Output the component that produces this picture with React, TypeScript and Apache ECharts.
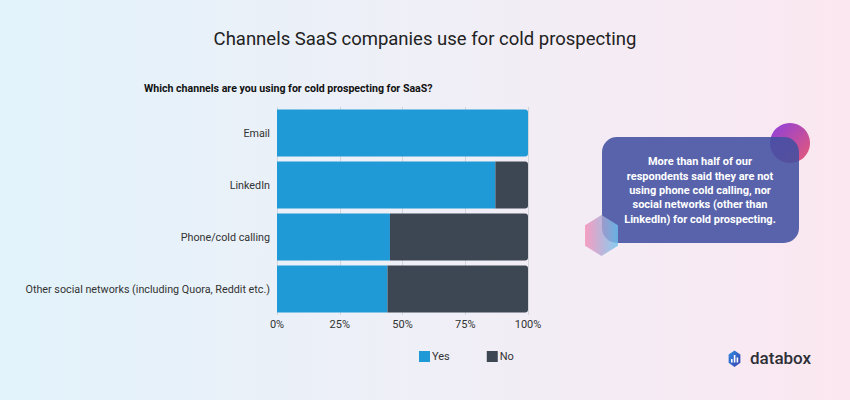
import React, { useEffect, useRef } from "react";
import * as echarts from "echarts";

const categories = [
  "Email",
  "LinkedIn",
  "Phone/cold calling",
  "Other social networks (including Quora, Reddit etc.)",
];
const yesValues = [100, 87, 45, 44];
const noValues = [0, 13, 55, 56];
const seriesNames = ["Yes", "No"];
const xTicks = [0, 25, 50, 75, 100];

const titleText = "Channels SaaS companies use for cold prospecting";
const subtitleText = "Which channels are you using for cold prospecting for SaaS?";
const calloutText =
  "More than half of our\nrespondents said they are not\nusing phone cold calling, nor\nsocial networks (other than\nLinkedIn) for cold prospecting.";

const FONT = "Roboto, 'Noto Sans', sans-serif";

function hexPoints(cx: number, cy: number, rx: number, ry: number) {
  const pts: number[][] = [];
  for (let i = 0; i < 6; i++) {
    const a = (Math.PI / 3) * i - Math.PI / 2;
    pts.push([cx + rx * Math.cos(a), cy + ry * Math.sin(a)]);
  }
  return pts;
}

export default function App() {
  const ref = useRef<HTMLDivElement>(null);
  useEffect(() => {
    document.body.style.margin = "0";
    if (!ref.current) return;
    const chart = echarts.init(ref.current, undefined, { renderer: "svg" });
    const option: any = {
      animation: false,
      backgroundColor: new echarts.graphic.LinearGradient(0, 0, 1, 0, [
        { offset: 0, color: "#e2f3fb" },
        { offset: 0.5, color: "#efeff7" },
        { offset: 1, color: "#fbe7f0" },
      ]),
      textStyle: { fontFamily: FONT },
      grid: { left: 277, right: 322, top: 107, height: 208 },
      legend: {
        data: seriesNames,
        left: 414,
        top: 346,
        itemWidth: 11,
        itemHeight: 11,
        itemGap: 37,
        icon: "rect",
        textStyle: {
          color: "#333",
          fontSize: 11,
          fontFamily: FONT,
          padding: [0, 0, 0, -3],
        },
      },
      xAxis: {
        type: "value",
        min: xTicks[0],
        max: xTicks[xTicks.length - 1],
        interval: 25,
        axisLine: { show: false },
        axisTick: { show: false },
        axisLabel: {
          formatter: "{value}%",
          color: "#333",
          fontSize: 11,
          margin: 4,
          fontFamily: FONT,
        },
        splitLine: { show: true, lineStyle: { color: "#d4d4dc", width: 1 } },
      },
      yAxis: {
        type: "category",
        data: categories,
        inverse: true,
        axisLine: { show: false },
        axisTick: { show: false },
        axisLabel: { color: "#333", fontSize: 10.75, margin: 7, fontFamily: FONT },
      },
      series: [
        {
          name: seriesNames[0],
          type: "bar",
          stack: "total",
          barCategoryGap: "10%",
          itemStyle: { color: "#1f9ad6" },
          data: yesValues.map((v, i) =>
            noValues[i] === 0
              ? { value: v, itemStyle: { borderRadius: [0, 3, 3, 0] } }
              : v
          ),
        },
        {
          name: seriesNames[1],
          type: "bar",
          stack: "total",
          barCategoryGap: "10%",
          itemStyle: { color: "#3d4653", borderRadius: [0, 3, 3, 0] },
          data: noValues,
        },
      ],
      graphic: [
        {
          type: "text",
          left: "center",
          top: 29,
          style: {
            text: titleText,
            font: `400 18.5px ${FONT}`,
            fill: "#222",
          },
        },
        {
          type: "text",
          left: 144,
          top: 83,
          style: {
            text: subtitleText,
            font: `bold 10.6px ${FONT}`,
            fill: "#111",
          },
        },
        {
          type: "circle",
          shape: { cx: 790, cy: 143, r: 20 },
          style: {
            fill: new echarts.graphic.LinearGradient(0, 0, 1, 1, [
              { offset: 0, color: "#8a3fe0" },
              { offset: 1, color: "#ea5a72" },
            ]),
          },
        },
        {
          type: "rect",
          shape: { x: 602, y: 137, width: 197, height: 106, r: 15 },
          style: { fill: "rgba(66, 80, 160, 0.88)" },
        },
        {
          type: "polygon",
          shape: { points: hexPoints(601.5, 235.5, 19, 20.5) },
          style: {
            fill: new echarts.graphic.LinearGradient(0, 0, 1, 0, [
              { offset: 0, color: "#f58ab5" },
              { offset: 1, color: "#6cc4f0" },
            ]),
            opacity: 0.8,
          },
        },
        {
          type: "text",
          x: 700,
          y: 190.5,
          style: {
            text: calloutText,
            font: `bold 11px ${FONT}`,
            fill: "#ffffff",
            align: "center",
            verticalAlign: "middle",
            lineHeight: 14.4,
          },
        },
        {
          type: "polygon",
          shape: { points: hexPoints(734.5, 358.7, 6.8, 8.2) },
          style: {
            fill: new echarts.graphic.LinearGradient(0, 0, 1, 1, [
              { offset: 0, color: "#2f8fe0" },
              { offset: 1, color: "#3b3fb0" },
            ]),
          },
        },
        { type: "rect", shape: { x: 731, y: 359, width: 1.6, height: 3.5 }, style: { fill: "#fff" } },
        { type: "rect", shape: { x: 733.8, y: 355, width: 1.6, height: 7.5 }, style: { fill: "#fff" } },
        { type: "rect", shape: { x: 736.6, y: 357.5, width: 1.6, height: 5 }, style: { fill: "#fff" } },
        {
          type: "text",
          left: 750,
          top: 349,
          style: {
            text: "databox",
            font: `500 17px ${FONT}`,
            fill: "#2c2f36",
          },
        },
      ],
    };
    chart.setOption(option);
    return () => chart.dispose();
  }, []);
  return <div ref={ref} style={{ width: 850, height: 400 }} />;
}
